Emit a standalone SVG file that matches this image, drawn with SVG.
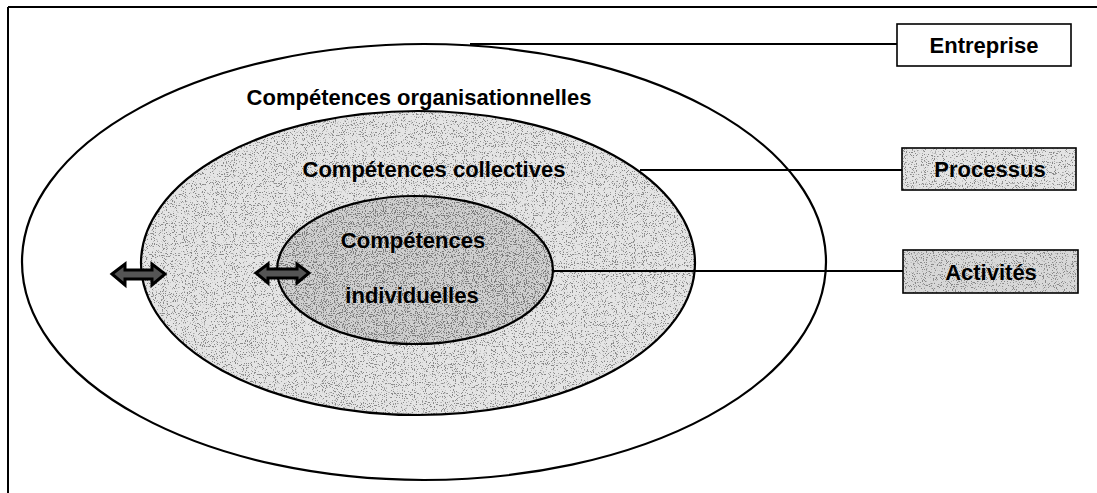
<svg xmlns="http://www.w3.org/2000/svg" width="1097" height="493" viewBox="0 0 1097 493">
<style>
.ln{stroke:#000;stroke-width:2;fill:none}
.el{stroke:#000;stroke-width:2.2}
.t{font-family:"Liberation Sans",Arial,sans-serif;font-weight:bold;font-size:22px;fill:#000;text-anchor:middle}
.box{stroke:#000;stroke-width:1.6}
.arr{fill:#555;stroke:#000;stroke-width:3;stroke-linejoin:miter}
</style>
<defs>
<filter id="stipL" x="0" y="0" width="100%" height="100%">
<feTurbulence type="fractalNoise" baseFrequency="0.9" numOctaves="2" seed="3" result="n"/>
<feColorMatrix in="n" type="matrix" values="0 0 0 0 0.25  0 0 0 0 0.25  0 0 0 0 0.25  0 0 0 -12 5.0" result="dots"/>
<feComposite in="dots" in2="SourceGraphic" operator="in" result="d2"/>
<feMerge><feMergeNode in="SourceGraphic"/><feMergeNode in="d2"/></feMerge>
</filter>
<filter id="stipD" x="0" y="0" width="100%" height="100%">
<feTurbulence type="fractalNoise" baseFrequency="0.9" numOctaves="2" seed="7" result="n"/>
<feColorMatrix in="n" type="matrix" values="0 0 0 0 0.2  0 0 0 0 0.2  0 0 0 0 0.2  0 0 0 -12 5.6" result="dots"/>
<feComposite in="dots" in2="SourceGraphic" operator="in" result="d2"/>
<feMerge><feMergeNode in="SourceGraphic"/><feMergeNode in="d2"/></feMerge>
</filter>
</defs>
<rect width="1097" height="493" fill="#fff"/>
<g id="frame">
<line class="ln" x1="8" y1="7" x2="1097" y2="7"/>
<line class="ln" x1="8" y1="7" x2="8" y2="493"/>
</g>
<g id="entreprise-ellipse">
<ellipse class="el" cx="424" cy="262" rx="402" ry="218" fill="#fff"/>
<text class="t" x="419" y="105">Compétences organisationnelles</text>
</g>
<g id="collectives-ellipse">
<ellipse cx="418" cy="263" rx="277" ry="152" fill="#e4e4e4" filter="url(#stipL)"/>
<ellipse cx="418" cy="263" rx="277" ry="152" fill="none" stroke="#000" stroke-width="2.2"/>
<text class="t" x="434" y="177">Compétences collectives</text>
</g>
<g id="individuelles-ellipse">
<ellipse cx="415" cy="270" rx="138" ry="74" fill="#cfcfcf" filter="url(#stipD)"/>
<ellipse cx="415" cy="270" rx="138" ry="74" fill="none" stroke="#000" stroke-width="2.2"/>
<text class="t" x="413" y="248">Compétences</text>
<text class="t" x="412" y="303">individuelles</text>
</g>
<g id="connectors">
<line class="ln" x1="470" y1="44" x2="897" y2="44" stroke-width="1.6"/>
<line class="ln" x1="640" y1="170" x2="902" y2="170" stroke-width="1.6"/>
<line class="ln" x1="553" y1="271" x2="903" y2="271" stroke-width="1.6"/>
</g>
<g id="arrow-left">
<path class="arr" d="M112,274 L125,264 L125,270 L152,270 L152,264 L165,274 L152,285 L152,279 L125,279 L125,285 Z"/>
</g>
<g id="arrow-right">
<path class="arr" d="M256,273 L268,264 L268,269 L297,269 L297,264 L309,273 L297,283 L297,278 L268,278 L268,283 Z"/>
</g>
<g id="box-entreprise">
<rect class="box" x="897" y="24" width="174" height="42" fill="#fff"/>
<text class="t" x="984" y="53">Entreprise</text>
</g>
<g id="box-processus">
<rect x="902" y="148" width="174" height="42" fill="#e4e4e4" filter="url(#stipL)"/>
<rect x="902" y="148" width="174" height="42" fill="none" stroke="#000" stroke-width="1.6"/>
<text class="t" x="990" y="177">Processus</text>
</g>
<g id="box-activites">
<rect x="903" y="250" width="175" height="43" fill="#d8d8d8" filter="url(#stipL)"/>
<rect x="903" y="250" width="175" height="43" fill="none" stroke="#000" stroke-width="1.6"/>
<text class="t" x="991" y="280">Activités</text>
</g>
</svg>
